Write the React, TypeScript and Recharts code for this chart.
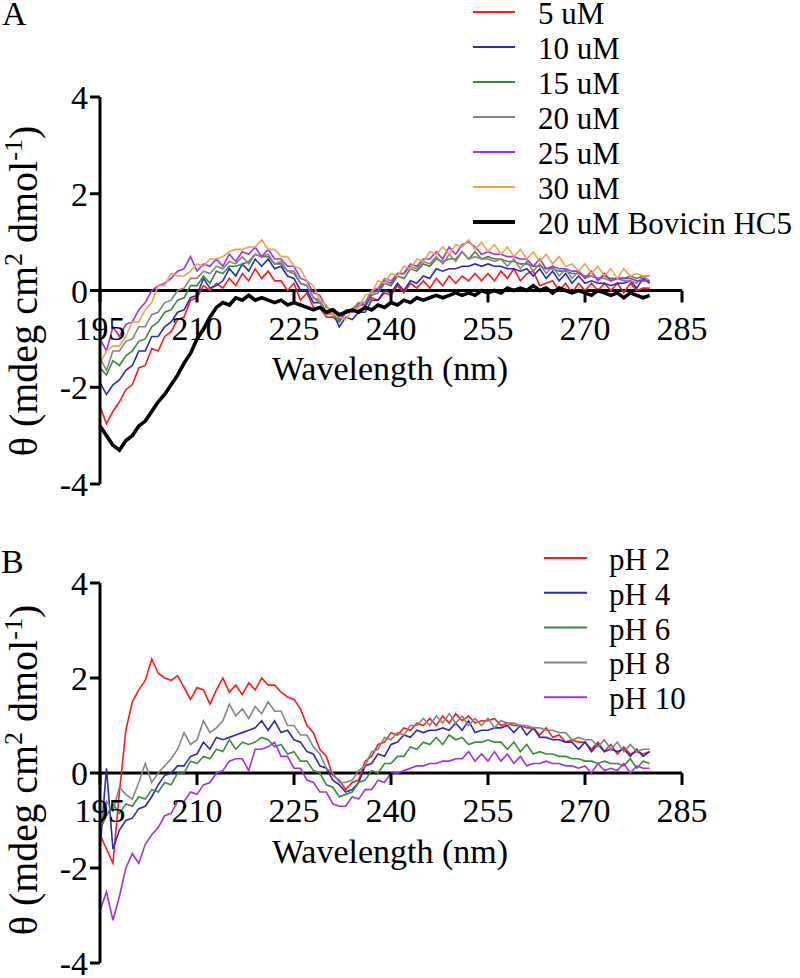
import React from 'react';
import { LineChart, Line, XAxis, YAxis, ReferenceLine, Legend } from 'recharts';

const FONT = 'Liberation Serif, Tinos, DejaVu Serif, serif';

// Wavelength (nm) categories, 195..280 nm in 1 nm steps
const WAVELENGTH = [
  195, 196, 197, 198, 199, 200, 201, 202, 203, 204,
  205, 206, 207, 208, 209, 210, 211, 212, 213, 214,
  215, 216, 217, 218, 219, 220, 221, 222, 223, 224,
  225, 226, 227, 228, 229, 230, 231, 232, 233, 234,
  235, 236, 237, 238, 239, 240, 241, 242, 243, 244,
  245, 246, 247, 248, 249, 250, 251, 252, 253, 254,
  255, 256, 257, 258, 259, 260, 261, 262, 263, 264,
  265, 266, 267, 268, 269, 270, 271, 272, 273, 274,
  275, 276, 277, 278, 279, 280,
];

// Panel A (θ, mdeg cm2 dmol-1)
const UM_5 = [
  -2.4, -2.75, -2.5, -2.3, -2.05, -1.95, -1.6, -1.55, -1.2, -1.25,
  -0.95, -0.85, -0.6, -0.55, -0.2, -0.15, 0.1, 0.0, 0.15, 0.05,
  0.25, 0.1, 0.35, 0.2, 0.45, 0.25, 0.4, 0.2, 0.2, 0.0,
  0.15, -0.2, -0.05, -0.35, -0.35, -0.55, -0.55, -0.65, -0.45, -0.4,
  -0.25, -0.3, -0.15, -0.2, -0.05, -0.1, 0.1, -0.05, 0.15, 0.05,
  0.2, 0.05, 0.25, 0.1, 0.3, 0.15, 0.3, 0.2, 0.35, 0.2,
  0.35, 0.2, 0.4, 0.25, 0.45, 0.2, 0.35, 0.4, 0.1, 0.15,
  0.2, 0.0, 0.15, -0.05, 0.15, 0.0, 0.15, 0.0, 0.15, 0.0,
  0.15, -0.05, 0.15, 0.0, 0.05, 0.05,
];
const UM_10 = [
  -1.9, -2.15, -1.95, -1.85, -1.65, -1.55, -1.25, -1.25, -0.95, -0.95,
  -0.75, -0.65, -0.45, -0.4, -0.15, -0.1, 0.25, 0.05, 0.1, 0.2,
  0.45, 0.3, 0.55, 0.4, 0.65, 0.5, 0.65, 0.45, 0.5, 0.3,
  0.25, 0.0, 0.0, -0.25, -0.25, -0.45, -0.45, -0.75, -0.55, -0.6,
  -0.45, -0.45, -0.2, -0.2, 0.0, -0.05, 0.15, 0.0, 0.2, 0.15,
  0.3, 0.25, 0.45, 0.4, 0.45, 0.45, 0.5, 0.5, 0.55, 0.5,
  0.55, 0.5, 0.5, 0.45, 0.45, 0.4, 0.45, 0.3, 0.45, 0.25,
  0.4, 0.2, 0.35, 0.15, 0.3, 0.15, 0.2, 0.15, 0.15, 0.1,
  0.15, 0.15, 0.2, 0.05, 0.25, 0.15,
];
const UM_15 = [
  -1.6, -1.75, -1.45, -1.55, -1.35, -1.25, -1.05, -1.0, -0.75, -0.65,
  -0.45, -0.4, -0.2, -0.15, 0.1, 0.1, 0.3, 0.15, 0.4, 0.35,
  0.5, 0.5, 0.55, 0.6, 0.75, 0.7, 0.7, 0.55, 0.55, 0.4,
  0.35, 0.15, 0.1, -0.15, -0.2, -0.45, -0.5, -0.65, -0.45, -0.45,
  -0.4, -0.35, -0.1, -0.05, 0.15, 0.1, 0.3, 0.25, 0.45, 0.4,
  0.55, 0.5, 0.65, 0.6, 0.65, 0.65, 0.8, 0.65, 0.8, 0.65,
  0.7, 0.65, 0.65, 0.6, 0.6, 0.55, 0.55, 0.5, 0.5, 0.45,
  0.45, 0.4, 0.4, 0.35, 0.35, 0.3, 0.3, 0.25, 0.3, 0.25,
  0.25, 0.25, 0.3, 0.25, 0.3, 0.3,
];
const UM_20 = [
  -1.4, -1.65, -1.25, -1.25, -1.05, -1.0, -0.75, -0.75, -0.5, -0.45,
  -0.25, -0.2, 0.0, 0.05, 0.25, 0.25, 0.4, 0.35, 0.5, 0.45,
  0.6, 0.55, 0.7, 0.55, 0.75, 0.7, 0.75, 0.55, 0.6, 0.4,
  0.4, 0.15, 0.1, -0.15, -0.25, -0.5, -0.45, -0.6, -0.4, -0.4,
  -0.25, -0.25, 0.0, 0.05, 0.25, 0.2, 0.35, 0.35, 0.5, 0.45,
  0.6, 0.55, 0.7, 0.55, 0.75, 0.6, 0.8, 0.65, 0.7, 0.65,
  0.65, 0.6, 0.65, 0.5, 0.65, 0.45, 0.6, 0.4, 0.55, 0.35,
  0.5, 0.3, 0.45, 0.25, 0.4, 0.25, 0.3, 0.25, 0.25, 0.2,
  0.25, 0.2, 0.2, 0.15, 0.3, 0.2,
];
const UM_25 = [
  -1.0, -1.25, -0.75, -0.95, -0.7, -0.65, -0.4, -0.25, 0.0, 0.1,
  0.15, 0.25, 0.4, 0.45, 0.7, 0.4, 0.55, 0.5, 0.65, 0.5,
  0.75, 0.6, 0.8, 0.75, 0.9, 0.7, 0.85, 0.65, 0.65, 0.5,
  0.5, 0.25, 0.2, -0.05, -0.1, -0.35, -0.4, -0.6, -0.45, -0.45,
  -0.3, -0.3, -0.05, 0.0, 0.2, 0.15, 0.35, 0.35, 0.55, 0.5,
  0.65, 0.65, 0.8, 0.65, 0.9, 0.75, 0.95, 1.0, 0.9, 0.75,
  0.8, 0.75, 0.75, 0.7, 0.7, 0.65, 0.65, 0.5, 0.65, 0.45,
  0.5, 0.45, 0.45, 0.4, 0.4, 0.25, 0.4, 0.2, 0.35, 0.2,
  0.25, 0.25, 0.25, 0.2, 0.2, 0.2,
];
const UM_30 = [
  -1.5, -1.25, -1.15, -1.15, -0.95, -0.65, -0.65, -0.4, -0.25, 0.1,
  0.1, 0.35, 0.3, 0.3, 0.4, 0.55, 0.5, 0.65, 0.65, 0.7,
  0.8, 0.85, 0.85, 0.9, 0.9, 1.05, 0.85, 0.85, 0.7, 0.7,
  0.5, 0.45, 0.2, 0.1, -0.2, -0.3, -0.5, -0.55, -0.6, -0.4,
  -0.35, -0.1, -0.05, 0.2, 0.15, 0.35, 0.3, 0.5, 0.45, 0.65,
  0.6, 0.8, 0.75, 0.9, 0.75, 0.95, 0.9, 1.05, 0.85, 1.0,
  0.8, 0.95, 0.75, 0.9, 0.7, 0.85, 0.65, 0.8, 0.6, 0.75,
  0.55, 0.7, 0.5, 0.55, 0.4, 0.55, 0.35, 0.5, 0.3, 0.45,
  0.25, 0.45, 0.3, 0.35, 0.3, 0.3,
];
const BOVICIN_20 = [
  -2.8, -3.0, -3.2, -3.3, -3.1, -3.0, -2.8, -2.7, -2.5, -2.3,
  -2.15, -1.95, -1.75, -1.5, -1.3, -1.0, -0.8, -0.55, -0.35, -0.25,
  -0.3, -0.15, -0.2, -0.1, -0.2, -0.15, -0.2, -0.25, -0.2, -0.3,
  -0.25, -0.3, -0.35, -0.4, -0.35, -0.45, -0.4, -0.5, -0.45, -0.4,
  -0.45, -0.35, -0.4, -0.3, -0.35, -0.25, -0.3, -0.2, -0.25, -0.15,
  -0.2, -0.15, -0.1, -0.15, -0.1, -0.05, -0.1, -0.05, -0.1, 0.0,
  -0.05, 0.0, -0.05, 0.05, 0.0, 0.05, 0.0, 0.1, 0.0, 0.05,
  -0.05, 0.05, 0.0, -0.05, 0.0, -0.05, -0.1, 0.0, -0.05, -0.1,
  -0.05, -0.15, -0.05, -0.1, -0.15, -0.1,
];

// Panel B
const PH_2 = [
  -1.3, -1.6, -1.9, -0.4, 0.9, 1.5, 1.75, 1.95, 2.4, 2.1,
  2.0, 1.95, 2.05, 1.8, 1.55, 1.8, 1.75, 1.45, 1.75, 2.0,
  1.7, 1.85, 1.65, 1.9, 1.75, 2.0, 1.85, 1.85, 1.7, 1.6,
  1.55, 1.35, 1.0, 0.85, 0.5, 0.35, -0.05, -0.15, -0.35, -0.2,
  -0.15, 0.25, 0.35, 0.6, 0.65, 0.85, 0.8, 0.95, 0.9, 1.05,
  1.0, 1.15, 1.0, 1.2, 1.05, 1.25, 1.1, 1.2, 1.05, 1.1,
  1.1, 1.15, 1.0, 1.05, 1.0, 1.0, 0.95, 0.95, 0.8, 0.95,
  0.75, 0.8, 0.65, 0.7, 0.65, 0.65, 0.5, 0.65, 0.45, 0.6,
  0.4, 0.55, 0.4, 0.45, 0.4, 0.45,
];
const PH_4 = [
  -1.6, 0.1, -1.6, -1.2, -1.0, -0.95, -0.75, -0.7, -0.5, -0.25,
  -0.05, 0.0, 0.15, 0.15, 0.35, 0.4, 0.65, 0.5, 0.75, 0.7,
  0.75, 0.8, 0.85, 0.9, 0.95, 1.1, 0.9, 1.1, 0.85, 0.9,
  0.7, 0.65, 0.45, 0.4, 0.15, 0.1, -0.15, -0.25, -0.4, -0.35,
  -0.2, 0.15, 0.2, 0.4, 0.35, 0.6, 0.65, 0.8, 0.75, 0.9,
  0.85, 0.9, 0.9, 0.95, 0.9, 1.05, 0.9, 1.1, 0.85, 0.9,
  0.9, 0.95, 0.95, 1.0, 0.85, 1.0, 0.8, 0.95, 0.75, 0.75,
  0.7, 0.7, 0.65, 0.65, 0.5, 0.65, 0.45, 0.6, 0.45, 0.5,
  0.45, 0.5, 0.35, 0.5, 0.35, 0.45,
];
const PH_6 = [
  -1.2, -0.9, -0.65, -0.85, -0.65, -0.7, -0.5, -0.55, -0.35, -0.4,
  -0.2, -0.25, 0.0, 0.0, 0.25, 0.2, 0.35, 0.3, 0.5, 0.45,
  0.7, 0.5, 0.65, 0.6, 0.65, 0.75, 0.7, 0.55, 0.6, 0.4,
  0.45, 0.25, 0.25, 0.05, 0.0, -0.25, -0.3, -0.5, -0.45, -0.4,
  -0.2, -0.15, 0.05, 0.0, 0.2, 0.2, 0.35, 0.35, 0.55, 0.5,
  0.65, 0.6, 0.75, 0.6, 0.8, 0.7, 0.75, 0.6, 0.65, 0.65,
  0.7, 0.65, 0.65, 0.5, 0.65, 0.45, 0.6, 0.4, 0.45, 0.4,
  0.4, 0.35, 0.35, 0.3, 0.3, 0.25, 0.25, 0.2, 0.25, 0.2,
  0.2, 0.15, 0.3, 0.1, 0.25, 0.2,
];
const PH_8 = [
  -1.1, -0.6, -0.8, -0.3, -0.45, -0.55, -0.2, 0.2, -0.2, 0.0,
  0.15, 0.3, 0.5, 0.85, 0.6, 0.7, 1.1, 0.85, 0.95, 1.1,
  1.45, 1.2, 1.35, 1.15, 1.4, 1.25, 1.5, 1.3, 1.3, 1.0,
  1.0, 0.8, 0.8, 0.55, 0.4, 0.1, 0.0, -0.2, -0.2, -0.15,
  0.05, 0.15, 0.45, 0.5, 0.75, 0.7, 0.85, 0.8, 1.0, 1.0,
  1.15, 1.0, 1.2, 1.05, 1.25, 1.05, 1.2, 1.0, 1.15, 1.0,
  1.15, 0.95, 1.1, 1.05, 1.05, 1.0, 1.0, 0.95, 0.95, 0.9,
  0.9, 0.85, 0.85, 0.7, 0.75, 0.7, 0.7, 0.55, 0.7, 0.5,
  0.65, 0.45, 0.6, 0.45, 0.5, 0.5,
];
const PH_10 = [
  -2.9, -2.5, -3.1, -2.6, -2.0, -1.7, -1.9, -1.5, -1.3, -1.15,
  -0.9, -0.85, -0.6, -0.6, -0.4, -0.45, -0.25, -0.2, 0.0, 0.05,
  0.25, 0.3, 0.3, 0.05, 0.5, 0.5, 0.55, 0.65, 0.35, 0.35,
  0.1, 0.1, -0.15, -0.2, -0.4, -0.4, -0.65, -0.7, -0.7, -0.5,
  -0.55, -0.35, -0.35, -0.15, -0.2, 0.0, 0.0, 0.05, 0.1, 0.15,
  0.15, 0.2, 0.2, 0.25, 0.25, 0.3, 0.3, 0.45, 0.25, 0.4,
  0.25, 0.45, 0.25, 0.4, 0.2, 0.35, 0.15, 0.2, 0.2, 0.25,
  0.2, 0.2, 0.15, 0.15, 0.1, 0.15, 0.0, 0.2, 0.05, 0.1,
  0.05, 0.2, 0.0, 0.15, 0.1, 0.1,
];

const X_TICKS = [195, 210, 225, 240, 255, 270, 285];
const Y_TICKS = [-4, -2, 0, 2, 4];

const SERIES_A = [
  { key: 'c5', name: '5 uM', values: UM_5, color: '#ff1a1a', width: 1.6 },
  { key: 'c10', name: '10 uM', values: UM_10, color: '#2b2bb8', width: 1.6 },
  { key: 'c15', name: '15 uM', values: UM_15, color: '#3a8a3a', width: 1.6 },
  { key: 'c20', name: '20 uM', values: UM_20, color: '#858585', width: 1.6 },
  { key: 'c25', name: '25 uM', values: UM_25, color: '#a52ee8', width: 1.6 },
  { key: 'c30', name: '30 uM', values: UM_30, color: '#f5a045', width: 1.6 },
  { key: 'bov', name: '20 uM Bovicin HC5', values: BOVICIN_20, color: '#000000', width: 3.6 },
];
const SERIES_B = [
  { key: 'p2', name: 'pH 2', values: PH_2, color: '#ff1a1a', width: 1.6 },
  { key: 'p4', name: 'pH 4', values: PH_4, color: '#2b2bb8', width: 1.6 },
  { key: 'p6', name: 'pH 6', values: PH_6, color: '#3a8a3a', width: 1.6 },
  { key: 'p8', name: 'pH 8', values: PH_8, color: '#858585', width: 1.6 },
  { key: 'p10', name: 'pH 10', values: PH_10, color: '#a52ee8', width: 1.6 },
];

function buildRows(series: typeof SERIES_A) {
  return WAVELENGTH.map((w, i) => {
    const row: Record<string, number> = { w };
    series.forEach((s) => {
      row[s.key] = s.values[i];
    });
    return row;
  });
}

const DATA_A = buildRows(SERIES_A);
const DATA_B = buildRows(SERIES_B);

type PanelProps = {
  data: Record<string, number>[];
  series: typeof SERIES_A;
  height: number;
  marginTop: number;
  marginBottom: number;
  legend: { x1: number; x2: number; tx: number; y0: number; dy: number };
};

function Panel({ data, series, height, marginTop, marginBottom, legend }: PanelProps) {
  const xAxisH = 1;
  const plotH = height - marginTop - marginBottom - xAxisH;
  const zeroY = marginTop + plotH / 2;

  const XTick = (props: any) => {
    const { x, payload } = props;
    return (
      <g>
        <line x1={x} x2={x} y1={zeroY} y2={zeroY + 12} stroke="#000" strokeWidth={3} />
        <text x={x} y={zeroY + 49} textAnchor="middle" fontSize={34} fontFamily={FONT} fill="#000">
          {payload.value}
        </text>
      </g>
    );
  };

  const renderLegend = () => (
    <svg width={800} height={260} style={{ overflow: 'visible', display: 'block' }}>
      {series.map((s, i) => {
        const y = legend.y0 + i * legend.dy;
        return (
          <g key={s.key}>
            <line x1={legend.x1} x2={legend.x2} y1={y} y2={y} stroke={s.color} strokeWidth={s.width > 2 ? 4 : 2} />
            <text x={legend.tx} y={y + 12} fontSize={31} fontFamily={FONT} fill="#000">
              {s.name}
            </text>
          </g>
        );
      })}
    </svg>
  );

  return (
    <LineChart
      width={800}
      height={height}
      data={data}
      margin={{ top: marginTop, right: 118, bottom: marginBottom, left: 0 }}
    >
      <XAxis
        dataKey="w"
        type="number"
        domain={[195, 285]}
        ticks={X_TICKS}
        height={xAxisH}
        axisLine={false}
        tickLine={false}
        tick={<XTick />}
        interval={0}
      />
      <YAxis
        type="number"
        domain={[-4, 4]}
        ticks={Y_TICKS}
        width={100}
        axisLine={{ stroke: '#000', strokeWidth: 3 }}
        tickLine={{ stroke: '#000', strokeWidth: 3 }}
        tickSize={10}
        tickMargin={2}
        tick={{ fill: '#000', fontSize: 34, fontFamily: FONT }}
        interval={0}
      />
      <ReferenceLine y={0} stroke="#000" strokeWidth={3} />
      <Legend
        layout="vertical"
        align="center"
        verticalAlign="middle"
        wrapperStyle={{ left: 0, top: 0, width: 800, height: 260 }}
        content={renderLegend}
      />
      {series.map((s) => (
        <Line
          key={s.key}
          type="linear"
          dataKey={s.key}
          name={s.name}
          stroke={s.color}
          strokeWidth={s.width}
          dot={false}
          activeDot={false}
          isAnimationActive={false}
        />
      ))}
    </LineChart>
  );
}

function YLabel({ x, y }: { x: number; y: number }) {
  return (
    <text
      transform={`translate(${x},${y}) rotate(-90)`}
      textAnchor="middle"
      fontSize={40}
      fontFamily={FONT}
      fill="#000"
    >
      θ (mdeg cm
      <tspan dy={-15} fontSize={26}>2</tspan>
      <tspan dy={15}> dmol</tspan>
      <tspan dy={-15} fontSize={26}>-1</tspan>
      <tspan dy={15}>)</tspan>
    </text>
  );
}

export default function App() {
  return (
    <div style={{ position: 'absolute', left: 0, top: 0, width: 800, height: 978, background: '#fff', fontFamily: FONT }}>
      <div style={{ position: 'absolute', left: 0, top: 0 }}>
        <Panel
          data={DATA_A}
          series={SERIES_A}
          height={510}
          marginTop={97}
          marginBottom={25}
          legend={{ x1: 473, x2: 515, tx: 538, y0: 12, dy: 35 }}
        />
      </div>
      <div style={{ position: 'absolute', left: 0, top: 500 }}>
        <Panel
          data={DATA_B}
          series={SERIES_B}
          height={478}
          marginTop={83}
          marginBottom={14}
          legend={{ x1: 544, x2: 587, tx: 609, y0: 58, dy: 34.8 }}
        />
      </div>
      <svg
        width={800}
        height={978}
        style={{ position: 'absolute', left: 0, top: 0, pointerEvents: 'none' }}
      >
        <text x={2} y={25} fontSize={34} fontFamily={FONT} fill="#000">A</text>
        <text x={1} y={573} fontSize={34} fontFamily={FONT} fill="#000">B</text>
        <YLabel x={37} y={291} />
        <YLabel x={37} y={770} />
        <text x={390} y={380} textAnchor="middle" fontSize={34} fontFamily={FONT} fill="#000">
          Wavelength (nm)
        </text>
        <text x={390} y={863} textAnchor="middle" fontSize={34} fontFamily={FONT} fill="#000">
          Wavelength (nm)
        </text>
      </svg>
    </div>
  );
}
